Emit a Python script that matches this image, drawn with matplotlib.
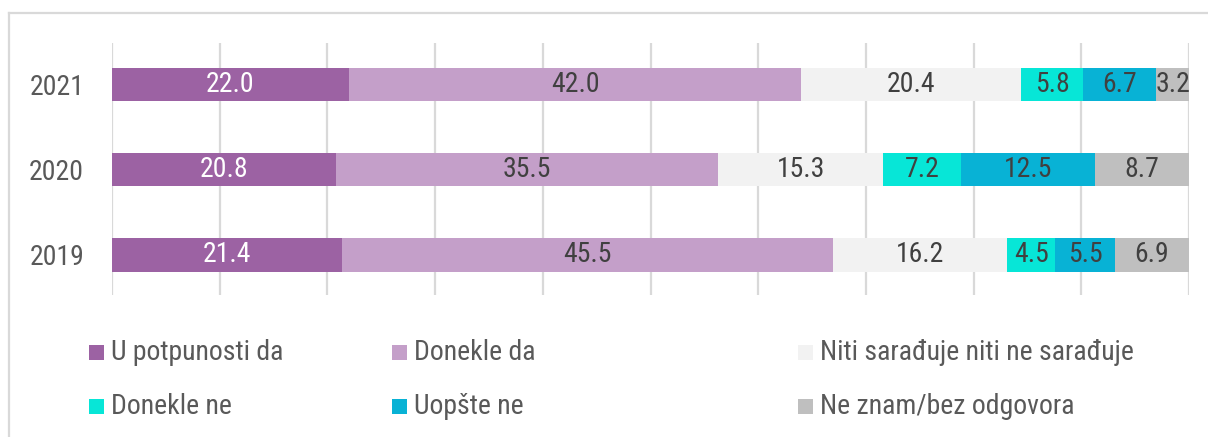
import matplotlib
matplotlib.use("Agg")
import matplotlib.pyplot as plt
from matplotlib import font_manager
from matplotlib.patches import Rectangle
from matplotlib.lines import Line2D
import numpy as np

years = ["2019", "2020", "2021"]
series_names = ["U potpunosti da", "Donekle da", "Niti sarađuje niti ne sarađuje",
                "Donekle ne", "Uopšte ne", "Ne znam/bez odgovora"]
u_potpunosti_da = [21.4, 20.8, 22.0]
donekle_da = [45.5, 35.5, 42.0]
niti = [16.2, 15.3, 20.4]
donekle_ne = [4.5, 7.2, 5.8]
uopste_ne = [5.5, 12.5, 6.7]
ne_znam = [6.9, 8.7, 3.2]
series_values = [u_potpunosti_da, donekle_da, niti, donekle_ne, uopste_ne, ne_znam]

colors = ["#9c62a3", "#c49fc9", "#f2f2f2", "#07e6d7", "#08b2d5", "#bfbfbf"]
label_colors = ["white", "#404040", "#404040", "#404040", "#404040", "#404040"]

# pick a condensed family if one is installed
avail = sorted({f.name for f in font_manager.fontManager.ttflist})
prefs = ["Roboto Condensed", "Liberation Sans Narrow", "DejaVu Sans Condensed",
         "Open Sans Condensed", "Noto Sans Condensed"]
chosen = next((p for p in prefs if p in avail), None)
if chosen is None:
    cands = [n for n in avail if ("Condensed" in n or "Narrow" in n)]
    chosen = cands[0] if cands else "Roboto"
FS = {"Roboto Condensed": 20, "Liberation Sans Narrow": 20,
      "DejaVu Sans Condensed": 17}.get(chosen, 17)
plt.rcParams["font.family"] = [chosen, "DejaVu Sans"]

W, H = 1208, 437
fig = plt.figure(figsize=(W / 100, H / 100), dpi=100)
ax = fig.add_axes([112 / W, 1 - 295 / H, (1189 - 112) / W, (295 - 43) / H])

y = np.arange(len(years))
left = np.zeros(len(years))
for name, vals, c, lc in zip(series_names, series_values, colors, label_colors):
    vals = np.array(vals)
    bars = ax.barh(y, vals, left=left, height=0.39, color=c, linewidth=0, zorder=2)
    for b, v in zip(bars, vals):
        ax.text(b.get_x() + b.get_width() / 2, b.get_y() + b.get_height() / 2,
                f"{v:.1f}", ha="center", va="center", color=lc, fontsize=FS, zorder=3)
    left += vals

ax.set_xlim(0, 100)
ax.set_ylim(-0.47, 2.49)
ax.set_xticks(np.arange(0, 101, 10))
ax.xaxis.grid(True, color="#d9d9d9", linewidth=1.6, zorder=0)
ax.set_axisbelow(True)
ax.tick_params(axis="x", length=0, labelbottom=False)
ax.set_yticks(y)
ax.set_yticklabels(years, fontsize=FS, color="#595959")
ax.tick_params(axis="y", length=0, pad=20)
for s in ax.spines.values():
    s.set_visible(False)

# figure frame (top and left, cropped on the other sides)
fig.add_artist(Line2D([9 / W, 9 / W], [0, 1 - 13 / H], transform=fig.transFigure,
                      color="#d9d9d9", linewidth=1.6))
fig.add_artist(Line2D([9 / W, 1], [1 - 13 / H, 1 - 13 / H], transform=fig.transFigure,
                      color="#d9d9d9", linewidth=1.6))

# legend
col_x = [89, 392, 798]
row_y = [352, 406]
for i, (name, c) in enumerate(zip(series_names, colors)):
    cx = col_x[i % 3]
    cy = row_y[i // 3]
    fig.add_artist(Rectangle((cx / W, 1 - (cy + 7.5) / H), 15 / W, 15 / H,
                             transform=fig.transFigure, facecolor=c, edgecolor="none"))
    fig.text((cx + 22) / W, 1 - cy / H, name, ha="left", va="center",
             fontsize=FS, color="#595959")

fig.savefig("out.png", dpi=100)
